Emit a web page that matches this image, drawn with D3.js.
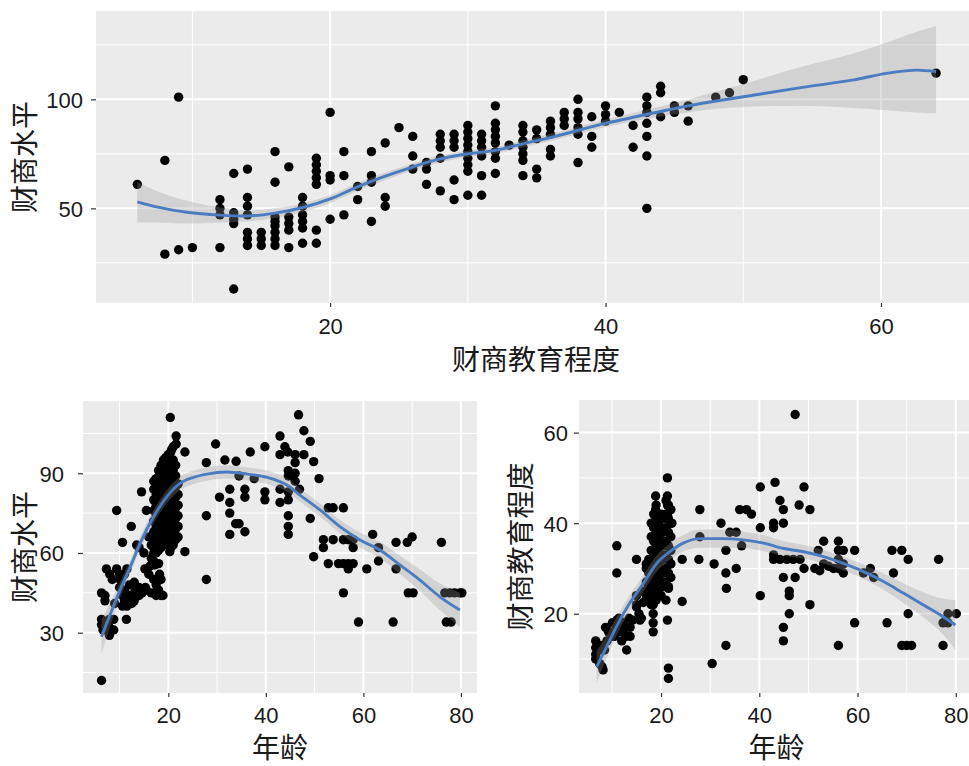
<!DOCTYPE html>
<html>
<head>
<meta charset="utf-8">
<script src="https://cdn.jsdelivr.net/npm/d3@7"></script>
<style>
  body { margin: 0; background: #fff; }
  .tick text { font-family: "Liberation Sans", Arial, sans-serif; font-size: 22px; fill: #1a1a1a; }
  .tick line { stroke: #333; stroke-width: 1.2; }
  .title { font-family: "Noto Sans CJK SC", sans-serif; font-size: 28px; fill: #1a1a1a; }
</style>
</head>
<body>
<script>
// ---- data ----
// top: 财商教育程度 (x) vs 财商水平 (y)
const eduLevel = [
  [6,61],[8,72],[8,29],[9,101],[9,31],[10,32],
  [12,54],[12,50],[12,47],[12,32],
  [13,66],[13,48],[13,45],[13,43],[13,13],
  [14,68],[14,55],[14,51],[14,47],[14,39],[14,36],[14,33],
  [15,39],[15,36],[15,33],
  [16,76],[16,62],[16,46],[16,44],[16,42],[16,39],[16,36],[16,33],
  [17,69],[17,46],[17,43],[17,40],[17,32],
  [18,55],[18,51],[18,47],[18,44],[18,41],[18,34],
  [19,73],[19,70],[19,67],[19,64],[19,61],[19,40],[19,34],
  [20,94],[20,65],[20,63],[20,45],
  [21,76],[21,65],[21,47],
  [22,60],[22,54],
  [23,76],[23,65],[23,62],[23,44],
  [24,80],[24,55],[24,51],
  [25,87],
  [26,83],[26,74],[26,68],
  [27,71],[27,68],[27,61],
  [28,84],[28,81],[28,78],[28,73],[28,58],
  [29,84],[29,81],[29,78],[29,63],[29,54],
  [30,88],[30,85],[30,82],[30,79],[30,76],[30,73],[30,70],[30,67],[30,56],
  [31,84],[31,81],[31,78],[31,74],[31,65],[31,56],
  [32,97],[32,89],[32,86],[32,83],[32,80],[32,76],[32,73],[32,66],
  [33,79],
  [34,88],[34,85],[34,81],[34,78],[34,75],[34,72],[34,65],
  [35,86],[35,82],[35,68],[35,64],
  [36,90],[36,87],[36,84],[36,77],[36,74],
  [37,94],[37,91],[37,88],
  [38,100],[38,94],[38,91],[38,87],[38,84],[38,71],
  [39,92],[39,83],[39,78],
  [40,97],[40,93],[40,90],
  [41,94],
  [42,88],[42,78],
  [43,101],[43,97],[43,94],[43,89],[43,83],[43,74],[43,50],
  [44,106],[44,103],[44,92],
  [45,97],[45,94],
  [46,97],[46,90],
  [48,101],[49,103],[50,109],[64,112]
];
const eduSmoothX  = [6, 7.4, 9.6, 12, 13.9, 15.9, 18.1, 20, 21.9, 23.9, 25.8, 27.7, 29.9, 32.1, 34, 36.2, 39.8, 43.9, 45.9, 50, 54.3, 58, 60.4, 62.6, 64];
const eduSmoothY  = [53, 50.7, 48.2, 46.9, 46.5, 47.7, 50.5, 54.3, 59.6, 64.5, 68.6, 72.2, 74.9, 76.7, 79.6, 82.8, 88.7, 94.3, 96.9, 101.2, 105.5, 108.9, 111.9, 113.4, 112.7];
const eduSmoothLo = [43.5, 43.5, 43, 43.5, 44, 45.5, 48.5, 52.5, 57.8, 62.8, 67, 70.6, 73.4, 75.2, 78, 81.2, 87, 92, 94, 96.5, 97, 96, 95, 94, 93.6];
const eduSmoothHi = [62, 58, 53.5, 50.5, 49, 50, 52.5, 56, 61.4, 66.2, 70.2, 73.8, 76.4, 78.2, 81.2, 84.4, 90.4, 96.6, 99.8, 107, 115, 121, 126, 131, 133.6];

// bottom left: 年龄 (x) vs 财商水平 (y)
const ageLevel = [
  [6.3,12],[6.3,45],[6.3,35],[6.3,33],[6.6,31],[7,44],[7,42],[7.3,54],[7.9,35],[7.9,32],[7.9,29],
  [8,52],[8.5,50],[8.8,35],[8.8,31],[9,41],[9.4,76],[9.4,54],[10,52],[10,47],[10.1,50],[10.5,44],
  [10.6,64],[10.6,40],[11,52],[11,46],[11,42],[11.4,35],[11.5,54],[11.5,40],[12,48],[12,44],
  [12.4,70],[12.5,41],[13,49],[13,45],[13,42],[13.5,47],[13.5,63],[14,47],[14,44],[14,62],
  [14.5,83],[14.6,45],[15,60],[15.2,54],[15.3,47],[15.5,76],[15.5,46],[16,66],[16,52],[16.2,55],
  [16.5,63],[16.5,58],[16.5,45],[17,60],[17,57],[17,50],[17.2,55.5],[17.5,48],[17.5,44],[18,56],
  [18,46],[18.2,52],[18.5,50],[18.5,44],[18.9,44],
  [17,62],[17,65],[17,68],[17,72],[17,76],[17,80],[17,84],[17,87],
  [17.5,60],[17.5,64],[17.5,70],[17.5,74],[17.5,78],[17.5,82],[17.5,88],
  [18,61],[18,64],[18,67],[18,70],[18,73],[18,76],[18,79],[18,82],[18,85],[18,88],[18,91],
  [18.5,62],[18.5,66],[18.5,69],[18.5,72],[18.5,75],[18.5,78],[18.5,81],[18.5,84],[18.5,87],[18.5,90],[18.5,93],
  [19,63],[19,66],[19,69],[19,72],[19,75],[19,78],[19,81],[19,84],[19,87],[19,90],[19,93],[19,95],
  [19.5,65],[19.5,68],[19.5,71],[19.5,74],[19.5,77],[19.5,80],[19.5,83],[19.5,86],[19.5,89],[19.5,92],[19.5,96],
  [20,64],[20,67],[20,70],[20,73],[20,76],[20,79],[20,82],[20,85],[20,88],[20,91],[20,94],[20,97],
  [20.5,62],[20.5,66],[20.5,70],[20.5,74],[20.5,78],[20.5,82],[20.5,86],[20.5,90],[20.5,94],[20.5,98],
  [21,63],[21,67],[21,71],[21,75],[21,79],[21,83],[21,87],[21,91],[21,95],[21,100],
  [21.5,65],[21.5,69],[21.5,73],[21.5,77],[21.5,81],[21.5,85],[21.5,89],[21.5,93],
  [22,66],[22,70],[22,74],[22,78],[22,82],[22,86],
  [20.4,111],[21.6,104],[21.6,101],[20.7,99],[23.4,98],[20.3,60.5],[23.4,60.5],
  [27.8,94],[27.8,74],[27.8,50],[29.7,101],[30.5,81],[31.6,95],[32.6,84],[32.6,79],[32.6,75],
  [32.6,67],[33.9,94.5],[34.5,89],[33.8,71],[34.5,71],[35.7,68],[35.7,84],[35.7,81],[36.8,98],
  [37.6,88],[39.8,100],[39.8,83],[39.8,80],[42.9,104],[42.9,97],[42.9,84],[42.9,79],[43.9,100],
  [44.5,98],[44.6,91],[44.6,89],[44.6,83],[44.6,80],[44.6,74],[44.6,70],[44.6,67],[45.3,89],
  [46,90],[46,87],[46,97],[46,94],[46.7,112],[47.8,106],[47.8,97],[46.9,84],[49.1,102],[49.8,94.4],
  [49.1,73],[49.8,58.6],[50.9,88],[52.8,77],[51.8,65],[51.8,62],[52.8,56],[53.8,77],[55.9,77],
  [53.8,65],[55.9,65],[56.9,65],[54.9,56],[55.9,56],[56.9,56],[57.9,56],[56.9,54],[55.9,45],
  [57.9,65],[57.9,62],[59,34],[60.7,54],[61.9,67],[63.1,62],[63.1,57],[66.1,34],[66.7,64],
  [66.7,54],[69.2,45],[70.2,45],[69,64],[70,66],[76,64],[76.7,45],[77.7,45],[78.7,45],[79.8,45],
  [77,34],[78,34],[80.2,45]
];
const levelSmoothX  = [6.3, 7.9, 10.1, 12.2, 14.2, 17, 19.7, 22.4, 25.2, 27.9, 32, 36.2, 40.2, 44.3, 47, 51.1, 55.2, 59.3, 63.4, 67.5, 71.6, 75.7, 79.8];
const levelSmoothY  = [28.5, 36, 46.1, 54.8, 63.6, 73.7, 81.2, 86.2, 88.5, 89.7, 90.5, 89.7, 88.5, 85.6, 81.8, 76.2, 69.9, 64.9, 61.1, 55.5, 49.8, 43.5, 38.5];
const levelSmoothLo = [22, 31.5, 43, 52.3, 61.1, 71.2, 78.7, 83.7, 86, 87.2, 88, 87.2, 86, 83.1, 79.3, 73.7, 67.4, 62.1, 58.1, 52, 45.8, 38.5, 32];
const levelSmoothHi = [35, 40.5, 49.2, 57.3, 66.1, 76.2, 83.7, 88.7, 91, 92.2, 93, 92.2, 91, 88.1, 84.3, 78.7, 72.4, 67.7, 64.1, 59, 53.8, 48.5, 45];

// bottom right: 年龄 (x) vs 财商教育程度 (y)
const ageEdu = [
  [6.7,14],[6.7,12.5],[6.7,11],[6.7,10],[7.5,12],[7.5,9],[8,8.3],[8.2,7.6],[8,13],[8.5,12],
  [8.7,17],[9,14],[9.3,16],[9.5,16],[10,15],[10.1,18],[10.5,15],[11,35],[11,29],[11,18.6],
  [11,17],[11.4,19],[11.4,16],[12,14],[12.3,18],[12.3,16],[12.8,17],[12.8,15],[13,12],[13.5,19],
  [13.7,17],[13.7,15],[14.2,18.6],[15,32],[15,24],[15,22],[15,21.5],[15.5,20],[15.7,18.6],[16,19],
  [16.4,25],[16.4,22.5],[17,31],[18.4,24],[18.4,22],[18.4,20],[18.4,18],[18.4,16],[18.9,46],
  [18.9,43],[21.3,50],[21.3,46],[21.3,44],[21.3,42],[21.5,8],[21.5,5.7],[21.3,18.6],[21.5,25.6],
  [22.2,40],[24.3,32],[24.3,22.7],
  [17,24],[17,27],[17,30],
  [17.5,23],[17.5,26],[17.5,29],[17.5,32],
  [18,22],[18,25],[18,28],[18,31],[18,34],[18,37],[18,40],
  [18.5,24],[18.5,27],[18.5,30],[18.5,33],[18.5,36],[18.5,39],[18.5,42],
  [19,23],[19,26],[19,29],[19,32],[19,35],[19,38],[19,41],[19,44],
  [19.5,25],[19.5,28],[19.5,31],[19.5,34],[19.5,37],[19.5,40],
  [20,24],[20,27],[20,30],[20,33],[20,36],[20,39],[20,42],
  [20.5,26],[20.5,29],[20.5,32],[20.5,35],[20.5,38],[20.5,41],
  [21,23],[21,27],[21,30],[21,33],[21,36],[21,39],[21,42],[21,45],
  [21.5,26],[21.5,29],[21.5,32],[21.5,35],[21.5,38],[21.5,41],[21.5,44],
  [22,28],[22,31],[22,34],[22,37],[22,40],[22,43],
  [27.9,43],[27.9,37],[27.7,32],[30.4,9],[30.8,31],[32.2,40],[33.2,34],[33.2,29],[33.3,25.6],
  [33.2,13],[34,38],[35.3,38],[35.3,30],[36.4,35],[36,43],[37.4,43],[38.4,42],[40.2,39],[40.2,48],
  [40.2,24],[43.2,49],[42.9,40],[42.9,39],[42.9,33],[42.9,32],[44.2,45],[44.9,43],[44.9,40],
  [44.2,32],[45.6,32],[46.9,32],[48.3,32],[44.9,28],[44.9,17],[44.9,14],[46.1,25],[46.1,24],
  [46.1,20],[47.3,64],[47.3,28],[48.1,44],[49.1,48],[49.1,30],[50.3,43],[50.3,22],[51.3,30],
  [52.3,29.5],[53.1,36],[52,34],[53.1,31],[54.1,30.5],[55.1,30],[56.1,36],[56.1,34],[56.1,32],
  [56.1,30],[56.1,13],[57.1,34],[57.1,31],[57.1,29],[59.4,34],[59.4,18],[61.2,29],[62.6,30],
  [63.3,28],[66,18],[67,34],[69,34],[67.3,29],[69,13],[70,13],[71,13],[70.3,32],[70.3,20],
  [76.5,32],[77.4,13],[77.4,18],[78.4,18],[78.4,20],[80.1,20]
];
const eduAgeSmoothX  = [6.9, 8.9, 10.9, 13.6, 16.4, 19.1, 21.8, 24.5, 27.9, 32.7, 36.8, 40.9, 45, 49, 53.1, 57.1, 61.2, 65.3, 69.4, 73.5, 77.5, 79.9];
const eduAgeSmoothY  = [8.3, 12.7, 17.1, 22.3, 26.7, 31.1, 33.7, 35.6, 36.6, 36.6, 36.3, 35.6, 34.4, 33.7, 32.6, 31.1, 29.3, 27.1, 24.5, 21.9, 19.3, 17.5];
const eduAgeSmoothLo = [4.8, 10.2, 15.1, 20.5, 24.9, 29.3, 31.9, 33.8, 34.6, 34.6, 34.5, 33.8, 32.8, 32.2, 31.1, 29.6, 27.7, 25.3, 22.3, 19.1, 15.3, 12];
const eduAgeSmoothHi = [11.8, 15.2, 19.1, 24.1, 28.5, 32.9, 35.5, 37.4, 38.6, 38.6, 38.1, 37.4, 36, 35.2, 34.1, 32.6, 30.9, 28.9, 26.7, 24.7, 23.3, 23];

// tick labels
const eduTicks = [20, 40, 60], eduMinor = [10, 30, 50, 70];
const levelTicks = [50, 100], levelMinor = [25, 75, 125];
const ageTicks = [20, 40, 60, 80], ageMinor = [10, 30, 50, 70];
const level2Ticks = [30, 60, 90], level2Minor = [15, 45, 75, 105];
const edu2Ticks = [20, 40, 60], edu2Minor = [10, 30, 50];

var svg = d3.select("body").append("svg")
    .attr("width", 969)
    .attr("height", 766);

function drawPanel(p) {
    var x = d3.scaleLinear().domain(p.xDomain).range([p.left, p.right]);
    var y = d3.scaleLinear().domain(p.yDomain).range([p.bottom, p.top]);
    var g = svg.append("g");

    // panel background
    g.append("rect")
        .attr("x", p.left).attr("y", p.top)
        .attr("width", p.right - p.left).attr("height", p.bottom - p.top)
        .attr("fill", "#ebebeb");

    // grid lines (minor then major)
    [[p.xMinor, 1], [p.xTicks, 2]].forEach(function(s) {
        g.selectAll(null).data(s[0]).enter().append("line")
            .attr("x1", d => x(d)).attr("x2", d => x(d))
            .attr("y1", p.top).attr("y2", p.bottom)
            .attr("stroke", "#fff").attr("stroke-width", s[1]);
    });
    [[p.yMinor, 1], [p.yTicks, 2]].forEach(function(s) {
        g.selectAll(null).data(s[0]).enter().append("line")
            .attr("y1", d => y(d)).attr("y2", d => y(d))
            .attr("x1", p.left).attr("x2", p.right)
            .attr("stroke", "#fff").attr("stroke-width", s[1]);
    });

    // Add the scatterplot
    g.selectAll(null).data(p.points).enter().append("circle")
        .attr("cx", d => x(d[0]))
        .attr("cy", d => y(d[1]))
        .attr("r", 4.7)
        .attr("fill", "#000");

    // confidence band + smooth line
    var idx = d3.range(p.smX.length);
    g.append("path")
        .datum(idx)
        .attr("fill", "#999")
        .attr("fill-opacity", 0.3)
        .attr("d", d3.area()
            .x(i => x(p.smX[i]))
            .y0(i => y(p.smLo[i]))
            .y1(i => y(p.smHi[i]))
            .curve(d3.curveMonotoneX));
    g.append("path")
        .datum(idx)
        .attr("fill", "none")
        .attr("stroke", "#4a7cc2")
        .attr("stroke-width", 2.9)
        .attr("d", d3.line()
            .x(i => x(p.smX[i]))
            .y(i => y(p.smY[i]))
            .curve(d3.curveMonotoneX));

    // Add the X Axis
    var ax = g.append("g")
        .attr("transform", "translate(0," + p.bottom + ")")
        .call(d3.axisBottom(x).tickValues(p.xTicks).tickSize(4).tickPadding(p.xPad));
    ax.select(".domain").remove();

    // Add the Y Axis
    var ay = g.append("g")
        .attr("transform", "translate(" + p.left + ",0)")
        .call(d3.axisLeft(y).tickValues(p.yTicks).tickSize(5).tickPadding(p.yPad));
    ay.select(".domain").remove();
    ay.selectAll(".tick text").attr("dy", "0.36em");

    // Add the X label
    g.append("text")
        .attr("class", "title")
        .attr("text-anchor", "middle")
        .attr("x", (p.left + p.right) / 2)
        .attr("y", p.xTitleY)
        .text(p.xTitle);

    // Add the Y label
    g.append("text")
        .attr("class", "title")
        .attr("text-anchor", "middle")
        .attr("transform", "translate(" + p.yTitleX + "," + (p.top + p.bottom) / 2 + ") rotate(-90)")
        .text(p.yTitle);
}

drawPanel({
    left: 96, right: 976, top: 11, bottom: 303,
    xDomain: [3.0, 66.9], yDomain: [6.6, 140.5],
    xTicks: eduTicks, xMinor: eduMinor, yTicks: levelTicks, yMinor: levelMinor,
    points: eduLevel,
    smX: eduSmoothX, smY: eduSmoothY, smLo: eduSmoothLo, smHi: eduSmoothHi,
    xPad: 11, yPad: 8,
    xTitle: "财商教育程度", xTitleY: 370,
    yTitle: "财商水平", yTitleX: 35
});

drawPanel({
    left: 83, right: 477, top: 401, bottom: 693,
    xDomain: [2.5, 83.3], yDomain: [7.3, 117.2],
    xTicks: ageTicks, xMinor: ageMinor, yTicks: level2Ticks, yMinor: level2Minor,
    points: ageLevel,
    smX: levelSmoothX, smY: levelSmoothY, smLo: levelSmoothLo, smHi: levelSmoothHi,
    xPad: 10, yPad: 14,
    xTitle: "年龄", xTitleY: 758,
    yTitle: "财商水平", yTitleX: 35
});

drawPanel({
    left: 579, right: 974, top: 400, bottom: 693,
    xDomain: [3.3, 83.7], yDomain: [2.5, 67.2],
    xTicks: ageTicks, xMinor: ageMinor, yTicks: edu2Ticks, yMinor: edu2Minor,
    points: ageEdu,
    smX: eduAgeSmoothX, smY: eduAgeSmoothY, smLo: eduAgeSmoothLo, smHi: eduAgeSmoothHi,
    xPad: 10, yPad: 6,
    xTitle: "年龄", xTitleY: 758,
    yTitle: "财商教育程度", yTitleX: 531
});
</script>
</body>
</html>
